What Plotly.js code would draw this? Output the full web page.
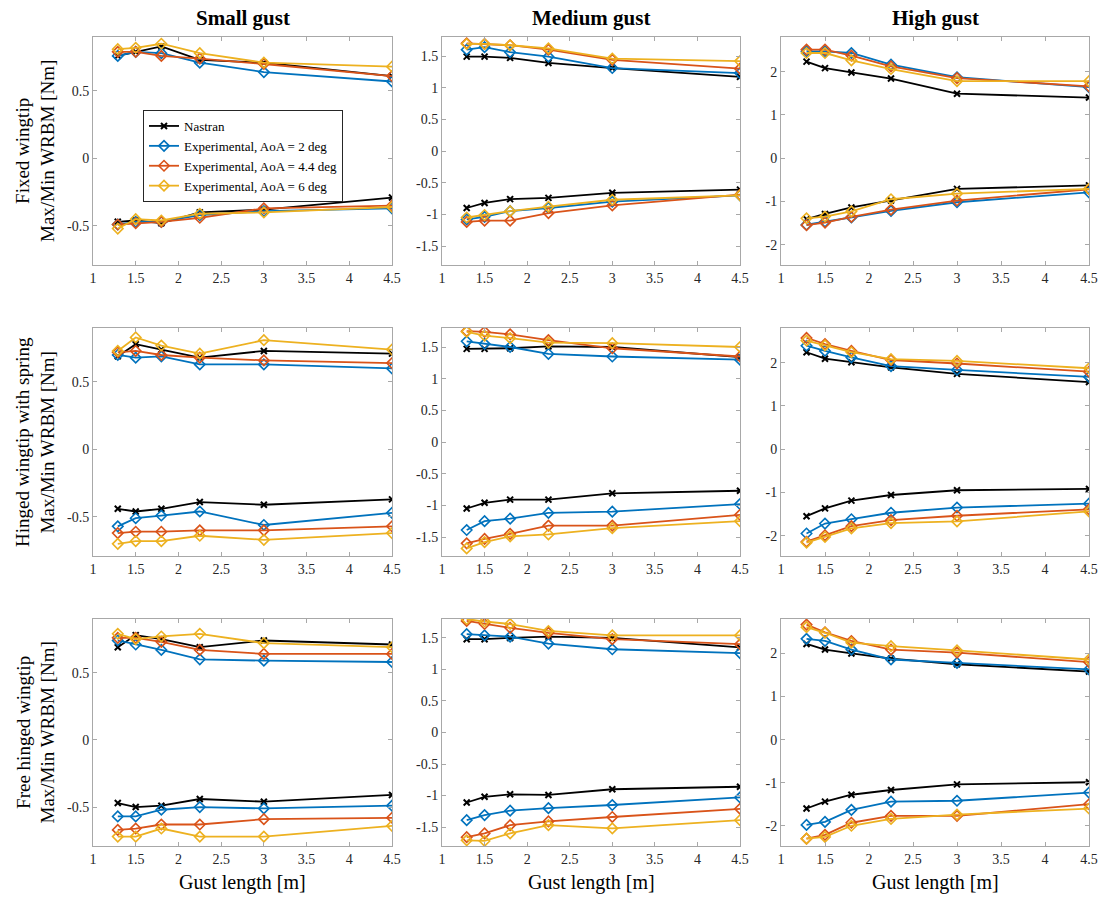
<!DOCTYPE html>
<html>
<head>
<meta charset="utf-8">
<script src="https://cdn.plot.ly/plotly-3.0.1.min.js"></script>
<style>html,body{margin:0;padding:0;background:#fff;}#chart{width:1103px;height:918px;}</style>
</head>
<body>
<div id="chart"></div>
<script>
// ---------------- DATA ----------------
const gustLength = [1.29, 1.5, 1.8, 2.25, 3, 4.5];
const seriesNames = ['Nastran', 'Experimental, AoA = 2 deg', 'Experimental, AoA = 4.4 deg', 'Experimental, AoA = 6 deg'];
const columnTitles = ['Small gust', 'Medium gust', 'High gust'];
const rowTitles = ['Fixed wingtip', 'Hinged wingtip with spring', 'Free hinged wingtip'];
const xTicks = [1, 1.5, 2, 2.5, 3, 3.5, 4, 4.5];
const yTicksSmall = [-0.5, 0, 0.5];
const yTicksMedium = [-1.5, -1, -0.5, 0, 0.5, 1, 1.5];
const yTicksHigh = [-2, -1, 0, 1, 2];

// rows of each array: Nastran, AoA 2, AoA 4.4, AoA 6
const fixSmallMax = [[0.76,0.79,0.83,0.73,0.71,0.61],[0.76,0.79,0.78,0.71,0.64,0.57],[0.79,0.79,0.76,0.74,0.70,0.61],[0.81,0.82,0.85,0.78,0.71,0.68]];
const fixSmallMin = [[-0.47,-0.46,-0.48,-0.40,-0.38,-0.29],[-0.49,-0.47,-0.47,-0.42,-0.39,-0.37],[-0.49,-0.48,-0.47,-0.44,-0.37,-0.35],[-0.52,-0.45,-0.46,-0.41,-0.40,-0.36]];
const fixMedMax = [[1.49,1.49,1.47,1.39,1.31,1.17],[1.60,1.64,1.56,1.49,1.31,1.23],[1.70,1.69,1.67,1.60,1.44,1.30],[1.69,1.69,1.67,1.62,1.46,1.42]];
const fixMedMin = [[-0.90,-0.82,-0.76,-0.74,-0.66,-0.61],[-1.08,-1.04,-0.95,-0.90,-0.80,-0.70],[-1.12,-1.10,-1.10,-0.98,-0.86,-0.69],[-1.05,-1.01,-0.95,-0.88,-0.77,-0.70]];
const fixHighMax = [[2.23,2.08,1.98,1.84,1.49,1.40],[2.47,2.47,2.43,2.16,1.87,1.64],[2.51,2.51,2.37,2.12,1.85,1.66],[2.43,2.43,2.26,2.06,1.78,1.78]];
const fixHighMin = [[-1.41,-1.29,-1.14,-0.98,-0.71,-0.63],[-1.54,-1.47,-1.37,-1.22,-1.02,-0.79],[-1.55,-1.49,-1.36,-1.19,-0.98,-0.72],[-1.39,-1.35,-1.23,-0.95,-0.82,-0.71]];

const sprSmallMax = [[0.69,0.78,0.74,0.68,0.73,0.71],[0.70,0.68,0.69,0.63,0.63,0.60],[0.72,0.73,0.70,0.68,0.66,0.64],[0.73,0.83,0.77,0.71,0.81,0.74]];
const sprSmallMin = [[-0.44,-0.46,-0.44,-0.39,-0.41,-0.37],[-0.57,-0.51,-0.49,-0.46,-0.56,-0.47],[-0.62,-0.61,-0.61,-0.60,-0.60,-0.57],[-0.70,-0.68,-0.68,-0.64,-0.67,-0.62]];
const sprMedMax = [[1.47,1.47,1.48,1.51,1.50,1.34],[1.59,1.55,1.50,1.39,1.35,1.30],[1.75,1.74,1.70,1.61,1.48,1.35],[1.74,1.68,1.64,1.57,1.56,1.50]];
const sprMedMin = [[-1.05,-0.96,-0.91,-0.91,-0.81,-0.77],[-1.39,-1.25,-1.21,-1.12,-1.10,-0.98],[-1.60,-1.53,-1.45,-1.32,-1.32,-1.15],[-1.68,-1.58,-1.49,-1.46,-1.36,-1.25]];
const sprHighMax = [[2.24,2.09,2.01,1.89,1.74,1.55],[2.39,2.27,2.12,1.92,1.83,1.67],[2.57,2.43,2.27,2.06,1.98,1.79],[2.51,2.40,2.24,2.08,2.04,1.87]];
const sprHighMin = [[-1.55,-1.37,-1.19,-1.06,-0.95,-0.92],[-1.95,-1.72,-1.62,-1.47,-1.35,-1.26],[-2.14,-1.99,-1.78,-1.64,-1.54,-1.39],[-2.16,-2.03,-1.83,-1.71,-1.67,-1.44]];

const freeSmallMax = [[0.69,0.78,0.75,0.69,0.74,0.71],[0.74,0.71,0.67,0.60,0.59,0.58],[0.76,0.76,0.73,0.67,0.64,0.64],[0.79,0.75,0.77,0.79,0.72,0.69]];
const freeSmallMin = [[-0.47,-0.50,-0.49,-0.44,-0.46,-0.41],[-0.57,-0.57,-0.52,-0.50,-0.51,-0.49],[-0.67,-0.66,-0.63,-0.63,-0.59,-0.58],[-0.72,-0.72,-0.66,-0.72,-0.72,-0.64]];
const freeMedMax = [[1.48,1.48,1.50,1.52,1.50,1.35],[1.56,1.54,1.52,1.41,1.32,1.26],[1.77,1.72,1.66,1.58,1.48,1.40],[1.80,1.76,1.72,1.61,1.54,1.54]];
const freeMedMin = [[-1.11,-1.02,-0.98,-0.99,-0.90,-0.86],[-1.39,-1.31,-1.24,-1.20,-1.15,-1.03],[-1.66,-1.60,-1.47,-1.41,-1.34,-1.21],[-1.71,-1.72,-1.60,-1.47,-1.52,-1.39]];
const freeHighMax = [[2.22,2.09,2.00,1.88,1.75,1.58],[2.34,2.29,2.09,1.86,1.78,1.63],[2.67,2.49,2.29,2.09,2.02,1.80],[2.61,2.48,2.25,2.17,2.07,1.86]];
const freeHighMin = [[-1.60,-1.44,-1.28,-1.17,-1.04,-0.99],[-1.98,-1.91,-1.63,-1.44,-1.42,-1.23],[-2.30,-2.21,-1.93,-1.77,-1.77,-1.50],[-2.30,-2.26,-2.00,-1.84,-1.74,-1.60]];

// ---------------- STYLE / LAYOUT ----------------
const W = 1103, H = 918;
const FONT = '"Liberation Serif", "DejaVu Serif", serif';
const colors = ['#000000', '#0072BD', '#D95319', '#EDB120'];
const panels = [
  [fixSmallMax, fixSmallMin], [fixMedMax, fixMedMin], [fixHighMax, fixHighMin],
  [sprSmallMax, sprSmallMin], [sprMedMax, sprMedMin], [sprHighMax, sprHighMin],
  [freeSmallMax, freeSmallMin], [freeMedMax, freeMedMin], [freeHighMax, freeHighMin]
];
const colPx = [[93, 392], [442, 740], [781, 1089]];
const rowPx = [[37, 265], [328, 556], [619, 846]];
const yRanges = [[-0.79, 0.9], [-1.8, 1.8], [-2.47, 2.8]];
const yTickSets = [yTicksSmall, yTicksMedium, yTicksHigh];

const fmt = v => String(v);
const traces = [];
const layout = {
  width: W, height: H,
  margin: {l: 0, r: 0, t: 0, b: 0},
  paper_bgcolor: '#ffffff', plot_bgcolor: '#ffffff',
  font: {family: FONT, color: '#262626'},
  showlegend: true,
  legend: {
    x: 143 / W, y: 1 - 110 / H, xanchor: 'left', yanchor: 'top',
    bgcolor: '#ffffff', bordercolor: '#262626', borderwidth: 1,
    font: {family: FONT, size: 13, color: '#000'},
    tracegroupgap: 0, itemwidth: 30
  },
  annotations: []
};

for (let p = 0; p < 9; p++) {
  const r = Math.floor(p / 3), c = p % 3;
  const id = p + 1;
  const xa = 'xaxis' + (id === 1 ? '' : id), ya = 'yaxis' + (id === 1 ? '' : id);
  const axCommon = {
    showline: true, linecolor: '#a8a8a8', linewidth: 1, mirror: 'ticks',
    ticks: 'inside', ticklen: 4, tickcolor: '#a8a8a8', tickwidth: 1,
    showgrid: false, zeroline: false, fixedrange: true,
    tickfont: {family: FONT, size: 14, color: '#262626'}
  };
  layout[xa] = Object.assign({}, axCommon, {
    domain: [colPx[c][0] / W, colPx[c][1] / W],
    anchor: 'y' + (id === 1 ? '' : id),
    range: [1, 4.5], tickmode: 'array', tickvals: xTicks, ticktext: xTicks.map(fmt)
  });
  layout[ya] = Object.assign({}, axCommon, {
    domain: [1 - rowPx[r][1] / H, 1 - rowPx[r][0] / H],
    anchor: 'x' + (id === 1 ? '' : id),
    range: yRanges[c], tickmode: 'array', tickvals: yTickSets[c], ticktext: yTickSets[c].map(fmt)
  });
  const [mx, mn] = panels[p];
  for (let s = 0; s < 4; s++) {
    traces.push({
      type: 'scatter', mode: 'lines+markers',
      x: gustLength.concat([null], gustLength),
      y: mx[s].concat([null], mn[s]),
      xaxis: 'x' + (id === 1 ? '' : id), yaxis: 'y' + (id === 1 ? '' : id),
      name: seriesNames[s], showlegend: p === 0,
      connectgaps: false,
      line: {color: colors[s], width: 1.8},
      marker: s === 0
        ? {symbol: 'x-thin-open', size: 6, color: colors[s], line: {color: colors[s], width: 2}}
        : {symbol: 'diamond-open', size: 8, color: colors[s], line: {color: colors[s], width: 1.6}}
    });
  }
}

// column titles and x-axis titles
for (let c = 0; c < 3; c++) {
  const cx = (colPx[c][0] + colPx[c][1]) / 2 / W;
  layout.annotations.push({
    text: '<b>' + columnTitles[c] + '</b>', xref: 'paper', yref: 'paper',
    x: cx, y: 1 - 18 / H, xanchor: 'center', yanchor: 'middle', showarrow: false,
    font: {family: FONT, size: 21, color: '#000'}
  });
  layout.annotations.push({
    text: 'Gust length [m]', xref: 'paper', yref: 'paper',
    x: cx, y: 1 - 882 / H, xanchor: 'center', yanchor: 'middle', showarrow: false,
    font: {family: FONT, size: 20, color: '#000'}
  });
}
// row titles
for (let r = 0; r < 3; r++) {
  const cy = 1 - (rowPx[r][0] + rowPx[r][1]) / 2 / H;
  layout.annotations.push({
    text: rowTitles[r] + '<br>Max/Min WRBM [Nm]', xref: 'paper', yref: 'paper',
    x: 35 / W, y: cy, xanchor: 'center', yanchor: 'middle', showarrow: false,
    textangle: -90, align: 'center',
    font: {family: FONT, size: 19, color: '#000'}
  });
}

Plotly.newPlot('chart', traces, layout, {displayModeBar: false, staticPlot: true});
</script>
</body>
</html>
